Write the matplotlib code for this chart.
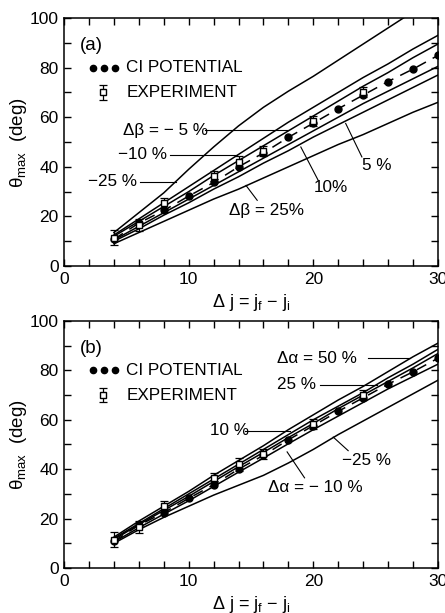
import matplotlib
matplotlib.use("Agg")
import matplotlib.pyplot as plt

plt.rcParams.update({
    "font.family": ["Liberation Sans", "DejaVu Sans"],
    "font.size": 12,
    "mathtext.fontset": "custom",
    "mathtext.rm": "Liberation Sans",
    "mathtext.it": "Liberation Sans:italic",
    "axes.linewidth": 1.1,
})

# Delta j values
dj = [4, 6, 8, 10, 12, 14, 16, 18, 20, 22, 24, 26, 28, 30]

# CI potential (dots, both panels)
ci = [10.8, 17.3, 22.4, 28.2, 33.7, 40.0, 45.6, 51.9, 57.6, 63.4, 68.9, 74.4, 79.4, 84.9]

# experiment (open squares with error bars)
exp_j = [4, 6, 8, 12, 14, 16, 20, 24]
exp_theta = [11.5, 16.5, 25.3, 36.3, 41.9, 46.2, 58.3, 70.0]
exp_err = [3.0, 2.5, 2.0, 2.0, 2.5, 2.0, 2.0, 2.0]

# panel (a): Delta beta curves
beta_m25 = [13.5, 21.5, 29.5, 39.0, 48.0, 56.5, 64.0, 70.5, 76.5, 83.0, 89.5, 96.0, 102.5, 109.0]
beta_m10 = [12.5, 19.0, 25.5, 32.0, 38.5, 45.0, 51.5, 58.0, 64.0, 70.0, 76.0, 81.5, 87.5, 93.0]
beta_m5 = [12.0, 18.0, 24.0, 30.0, 36.5, 42.5, 48.5, 54.5, 60.5, 66.5, 72.5, 78.0, 84.0, 89.5]
beta_p5 = [10.5, 16.0, 21.5, 27.0, 32.5, 38.0, 43.5, 49.0, 54.5, 60.0, 65.5, 70.5, 75.5, 80.5]
beta_p10 = [10.0, 15.0, 20.5, 25.5, 31.0, 36.0, 41.5, 46.5, 52.0, 57.0, 62.0, 67.0, 72.0, 77.0]
beta_p25 = [9.0, 13.5, 18.0, 22.5, 27.0, 31.0, 35.5, 40.0, 44.5, 49.0, 53.0, 57.5, 62.0, 66.0]

# panel (b): Delta alpha curves
alpha_p50 = [12.5, 19.0, 25.0, 31.0, 37.5, 43.5, 49.5, 56.0, 62.0, 68.0, 73.5, 79.5, 85.5, 91.0]
alpha_p25 = [12.0, 18.0, 24.0, 30.0, 36.0, 42.0, 48.0, 54.0, 60.0, 65.5, 71.0, 77.0, 82.5, 88.5]
alpha_p10 = [11.5, 17.6, 23.3, 29.0, 35.0, 41.0, 46.8, 52.8, 58.5, 64.5, 70.0, 75.5, 81.0, 86.8]
alpha_m10 = [10.5, 16.3, 21.8, 27.2, 33.0, 38.8, 44.5, 50.3, 56.0, 61.5, 67.0, 72.5, 77.5, 82.5]
alpha_m25 = [10.0, 15.5, 20.5, 25.0, 29.5, 33.5, 37.5, 42.5, 48.0, 54.0, 59.5, 65.0, 70.5, 76.0]

fig = plt.figure(figsize=(4.45, 6.13), dpi=100)
ax_a = fig.add_axes([0.144, 0.566, 0.840, 0.4046])
ax_b = fig.add_axes([0.144, 0.0734, 0.840, 0.403])


def setup(ax, tag):
    ax.set_xlim(0, 30)
    ax.set_ylim(0, 100)
    ax.set_xticks([0, 10, 20, 30])
    ax.set_xticks(range(0, 31, 2), minor=True)
    ax.set_yticks(range(0, 101, 20))
    ax.set_yticks(range(0, 101, 10), minor=True)
    ax.tick_params(which="both", direction="in", top=True, right=True,
                   length=5, width=1.0, labelsize=12.5, pad=4)
    ax.set_xlabel("Δ j = j$_\\mathrm{f}$ − j$_\\mathrm{i}$", fontsize=13)
    ax.xaxis.set_label_coords(0.5, -0.105)
    ax.set_ylabel("θ$_\\mathrm{max}$  (deg)", fontsize=13.5)
    ax.yaxis.set_label_coords(-0.095, 0.5)

    # CI potential and experiment
    ax.plot(dj, ci, color="black", lw=1.1, ls=(0, (7, 5)))
    ax.plot(dj, ci, "o", color="black", ms=5)
    ax.errorbar(exp_j, exp_theta, yerr=exp_err, fmt="s", mfc="white", mec="black",
                ms=5, ecolor="black", elinewidth=0.9, capsize=3, capthick=0.9, zorder=5)

    # legend drawn as in the original figure
    ax.text(1.3, 89, tag, fontsize=13.5, va="center")
    ax.plot([2.3, 3.2, 4.1], [80, 80, 80], "o", color="black", ms=4.5)
    ax.text(5.0, 80, "CI POTENTIAL", fontsize=12.3, va="center")
    ax.errorbar([3.1], [70], yerr=[3.0], fmt="s", mfc="white", mec="black", ms=4.5,
                ecolor="black", elinewidth=0.9, capsize=3, capthick=0.9)
    ax.text(5.0, 70, "EXPERIMENT", fontsize=12.3, va="center")


setup(ax_a, "(a)")
setup(ax_b, "(b)")

for curve in [beta_m25, beta_m10, beta_m5, beta_p5, beta_p10, beta_p25]:
    ax_a.plot(dj, curve, color="black", lw=1.1)

for curve in [alpha_p50, alpha_p25, alpha_p10, alpha_m10, alpha_m25]:
    ax_b.plot(dj, curve, color="black", lw=1.1)

lkw = dict(color="black", lw=0.8)
tkw = dict(fontsize=12.3, va="center")

# panel (a) annotations
ax_a.text(4.7, 54.8, "Δβ = − 5 %", **tkw)
ax_a.plot([11.3, 18.0], [54.8, 54.8], **lkw)
ax_a.text(4.3, 44.8, "−10 %", **tkw)
ax_a.plot([8.5, 13.9], [44.8, 44.8], **lkw)
ax_a.text(1.9, 33.9, "−25 %", **tkw)
ax_a.plot([6.1, 9.0], [33.9, 33.9], **lkw)
ax_a.text(23.9, 40.5, "5 %", **tkw)
ax_a.plot([23.9, 22.6], [44.0, 57.5], **lkw)
ax_a.text(20.0, 31.5, "10%", **tkw)
ax_a.plot([20.4, 19.0], [34.5, 48.0], **lkw)
ax_a.text(13.2, 22.5, "Δβ = 25%", **tkw)
ax_a.plot([15.5, 14.6], [26.5, 32.5], **lkw)

# panel (b) annotations
ax_b.text(17.1, 85.0, "Δα = 50 %", **tkw)
ax_b.plot([24.4, 27.8], [85.0, 85.0], **lkw)
ax_b.text(17.1, 74.1, "25 %", **tkw)
ax_b.plot([20.5, 25.1], [74.1, 74.1], **lkw)
ax_b.text(11.7, 55.5, "10 %", **tkw)
ax_b.plot([14.5, 18.1], [55.5, 55.5], **lkw)
ax_b.text(22.3, 43.5, "−25 %", **tkw)
ax_b.plot([22.8, 21.6], [47.5, 53.0], **lkw)
ax_b.text(16.4, 32.5, "Δα = − 10 %", **tkw)
ax_b.plot([19.3, 17.9], [36.5, 47.0], **lkw)

fig.savefig("out.png", dpi=100)
